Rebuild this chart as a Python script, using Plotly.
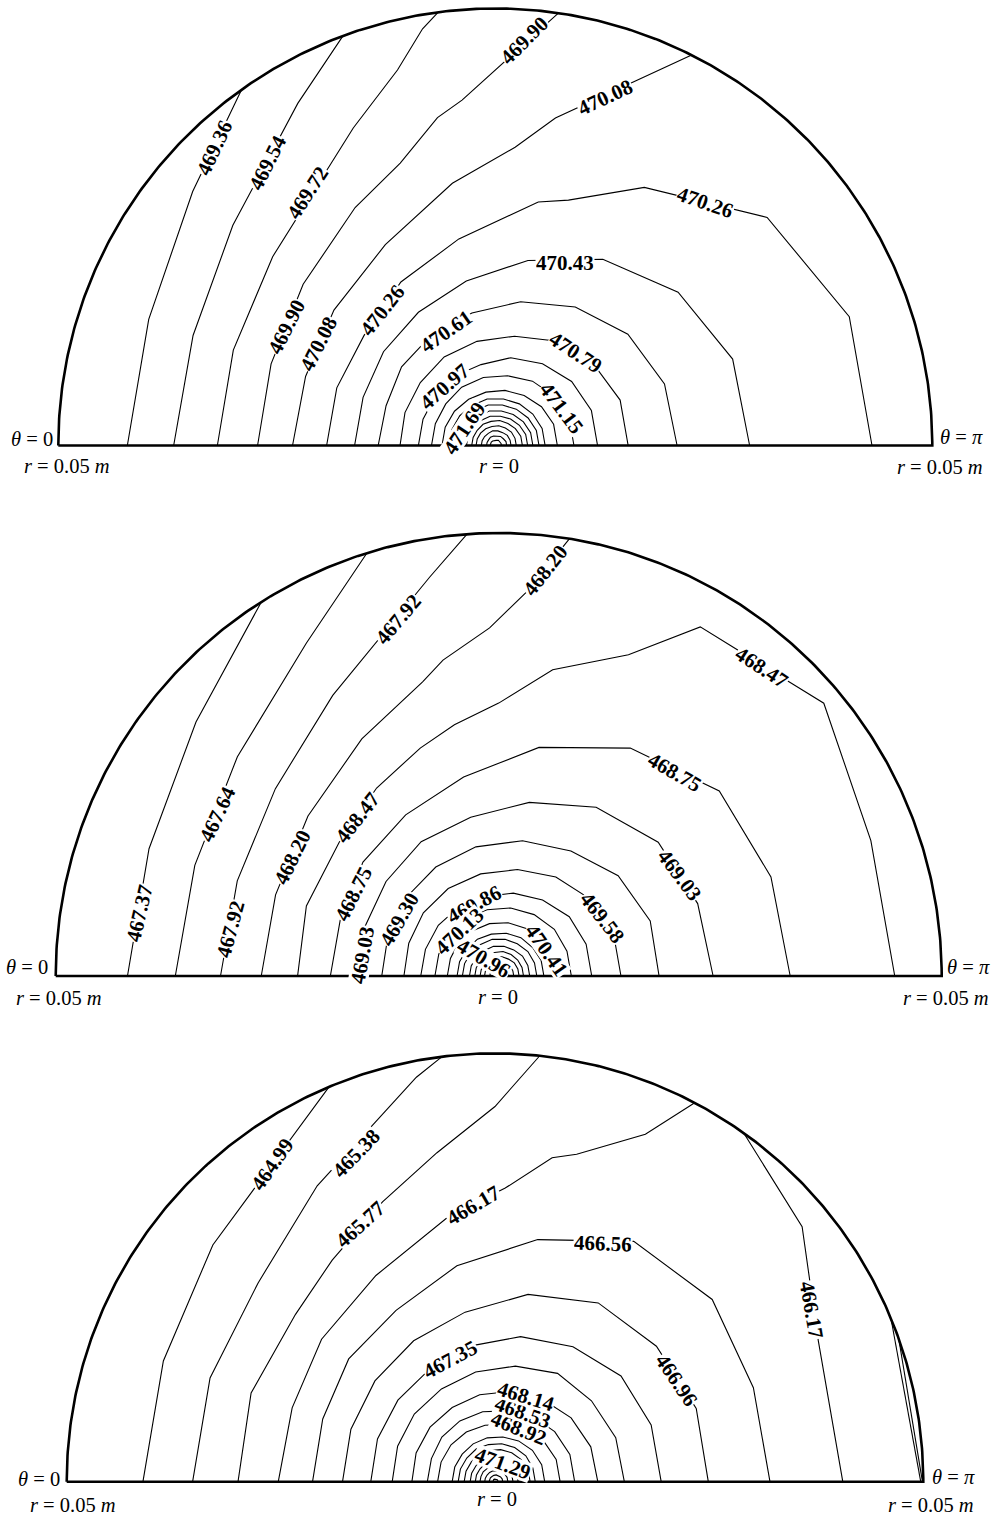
import numpy as np
import plotly.graph_objects as go

W, H = 995, 1517
R_OUT = 50.0  # outer radius in mm (r = 0.05 m)
RAYS = [0, 20, 40, 60, 80, 100, 120, 140, 160, 180]  # grid angles, degrees from theta = 0

# ---------------- Panel 1 ----------------
P1_LEVELS = [469.36, 469.54, 469.72, 469.90, 470.08, 470.26, 470.43, 470.61, 470.79, 470.97,
             471.15, 471.33, 471.51, 471.69, 471.86, 472.04, 472.22, 472.40, 472.57, 472.75, 472.93]
P1_THETA = [
    [0, 20, 40, 54.5],
    [0, 20, 40, 60, 69.6],
    [0, 20, 40.3, 65.9, 75.4, 80.1, 82.5],
    [0, 20, 40, 59.5, 71.4, 80, 84.5, 90.8, 98.3],
    [0, 20, 40, 61.3, 80.7, 93.8, 100.4, 116.7],
    [0, 20, 40, 60, 80, 100, 106.6, 120, 140, 160, 180],
] + [RAYS] * 15
P1_R = [
    [42.1, 42.2, 45.2, 50.0],
    [36.8, 36.8, 39.2, 45.2, 50.0],
    [31.8, 31.9, 33.4, 39.8, 44.4, 48.4, 50.0],
    [27.2, 27.3, 28.7, 31.6, 34.1, 38.1, 39.7, 43.5, 50.0],
    [23.2, 23.1, 24.1, 26.2, 30.4, 34.2, 38.1, 50.0],
    [19.3, 19.3, 19.6, 21.6, 24.0, 28.3, 29.3, 34.1, 40.6, 43.1, 43.1],
    [16.1, 16.1, 16.7, 17.6, 19.1, 21.5, 24.6, 27.3, 28.9, 29.1],
    [13.4, 13.3, 14.0, 14.6, 15.4, 16.7, 18.3, 19.8, 20.6, 20.8],
    [10.9, 11.0, 11.2, 11.7, 12.1, 12.7, 13.8, 14.6, 15.2, 15.2],
    [8.8, 8.8, 8.9, 9.2, 9.4, 10.2, 10.8, 11.4, 11.7, 11.7],
    [7.3, 7.3, 7.4, 7.7, 7.9, 8.1, 8.5, 8.8, 9.0, 9.0],
    [6.1, 6.1, 6.1, 6.1, 6.2, 6.4, 6.6, 6.9, 7.1, 7.1],
    [5.3, 5.3, 5.3, 5.3, 5.4, 5.4, 5.5, 5.6, 5.7, 5.7],
    [4.6, 4.6, 4.6, 4.6, 4.7, 4.7, 4.8, 4.9, 5.0, 5.0],
    [3.9, 3.9, 3.9, 3.9, 4.0, 4.0, 4.1, 4.2, 4.3, 4.3],
    [3.3, 3.3, 3.3, 3.3, 3.4, 3.4, 3.5, 3.6, 3.7, 3.7],
    [2.7, 2.7, 2.7, 2.8, 2.8, 2.9, 2.9, 3.0, 3.1, 3.1],
    [2.2, 2.2, 2.2, 2.2, 2.2, 2.3, 2.3, 2.4, 2.4, 2.4],
    [1.6, 1.6, 1.6, 1.6, 1.7, 1.7, 1.7, 1.8, 1.8, 1.8],
    [1.0, 1.0, 1.0, 1.1, 1.1, 1.1, 1.2, 1.2, 1.3, 1.3],
    [0.6, 0.6, 0.6, 0.6, 0.6, 0.6, 0.7, 0.7, 0.7, 0.7],
]

# ---------------- Panel 2 ----------------
P2_LEVELS = [467.37, 467.64, 467.92, 468.20, 468.47, 468.75, 469.03, 469.30, 469.58, 469.86,
             470.13, 470.41, 470.69, 470.96, 471.24, 471.52, 471.79, 472.07, 472.35, 472.62]
P2_THETA = [
    [0, 20, 40, 57.6],
    [0, 20, 40, 60, 72.7],
    [0, 20, 40, 59.4, 80.2, 85.9],
    [0, 20, 40, 60, 75.5, 80, 88.5, 94.2, 99.2],
    [0, 20, 40, 57, 71, 80, 90, 100, 112, 120, 140, 160, 180],
] + [RAYS] * 15
P2_R = [
    [41.9, 42.0, 44.6, 50.0],
    [36.5, 36.5, 38.5, 43.4, 50.0],
    [31.4, 31.4, 32.9, 36.8, 45.7, 50.0],
    [26.8, 26.8, 28.1, 30.9, 34.3, 36.2, 39.3, 43.5, 50.0],
    [22.7, 23.1, 23.5, 25.3, 27.2, 28.8, 30.8, 35.1, 39.1, 45.5, 47.9, 44.7, 44.7],
    [19.0, 19.0, 20.0, 21.0, 22.8, 26.2, 29.7, 32.5, 32.7, 32.9],
    [16.0, 16.1, 16.6, 17.5, 18.2, 19.9, 22.0, 23.5, 23.9, 24.2],
    [13.2, 13.3, 13.7, 14.2, 14.8, 15.5, 16.3, 17.6, 18.2, 18.1],
    [10.7, 10.8, 11.1, 11.4, 11.7, 12.2, 12.9, 13.5, 13.8, 13.8],
    [8.8, 8.8, 8.9, 9.0, 9.1, 9.5, 9.9, 10.4, 10.5, 10.5],
    [7.2, 7.2, 7.3, 7.5, 7.6, 7.8, 8.0, 8.2, 8.2, 8.2],
    [5.8, 5.8, 5.9, 5.9, 6.0, 6.1, 6.2, 6.3, 6.3, 6.3],
    [4.7, 4.7, 4.7, 4.8, 4.8, 4.9, 5.0, 5.0, 5.1, 5.1],
    [4.1, 4.1, 4.1, 4.1, 4.2, 4.2, 4.2, 4.3, 4.3, 4.3],
    [3.3, 3.3, 3.3, 3.3, 3.4, 3.4, 3.4, 3.5, 3.5, 3.5],
    [2.7, 2.7, 2.7, 2.7, 2.7, 2.8, 2.8, 2.8, 2.8, 2.8],
    [2.1, 2.1, 2.1, 2.1, 2.2, 2.2, 2.2, 2.3, 2.3, 2.3],
    [1.6, 1.6, 1.6, 1.6, 1.6, 1.6, 1.7, 1.7, 1.7, 1.7],
    [1.0, 1.0, 1.0, 1.0, 1.0, 1.1, 1.1, 1.1, 1.1, 1.1],
    [0.5, 0.5, 0.5, 0.5, 0.5, 0.5, 0.6, 0.6, 0.6, 0.6],
]

# ---------------- Panel 3 ----------------
P3_LEVELS = [464.99, 465.38, 465.38, 465.77, 465.77, 466.17, 466.17, 466.56, 466.96, 467.35,
             467.74, 468.14, 468.53, 468.92, 469.31, 469.71, 470.10, 470.50, 470.89, 471.29,
             471.68, 472.07, 472.47]
P3_THETA = [
    [0, 20, 40, 60, 67.2],
    [0, 20, 40, 59, 79, 82.9],
    [160.5, 180],
    [0, 20, 40, 53.7, 68.1, 80, 90, 96],
    [157.6, 180],
    [0, 20, 39.4, 60, 80, 92, 100, 104, 113.4, 117.8],
    [125.5, 140.3, 156.3, 180],
] + [RAYS] * 16
P3_R = [
    [41.1, 41.2, 43.0, 46.8, 50.0],
    [35.3, 35.4, 36.1, 40.3, 48.1, 50.0],
    [50.0, 49.9],
    [30.0, 30.3, 30.4, 32.1, 35.2, 39.0, 43.8, 50.0],
    [50.0, 49.7],
    [25.3, 25.2, 26.2, 27.8, 31.4, 34.3, 38.4, 39.4, 44.2, 50.0],
    [50.0, 46.6, 41.2, 40.6],
    [21.3, 21.4, 22.3, 23.1, 25.6, 28.7, 32.4, 33.1, 32.1, 32.1],
    [17.8, 17.9, 18.3, 19.0, 20.1, 22.2, 24.1, 24.6, 25.0, 24.9],
    [14.5, 14.6, 14.8, 15.2, 16.1, 17.2, 18.2, 19.2, 19.4, 19.4],
    [12.0, 12.1, 12.3, 12.5, 13.0, 13.7, 14.6, 14.7, 15.0, 15.1],
    [9.7, 9.8, 9.9, 10.0, 10.3, 10.7, 11.1, 11.6, 11.9, 12.0],
    [7.9, 7.9, 8.1, 8.2, 8.3, 8.4, 8.8, 9.1, 9.3, 9.3],
    [6.7, 6.7, 6.7, 6.7, 6.7, 6.8, 7.1, 7.4, 7.6, 7.6],
    [5.0, 5.0, 5.0, 5.1, 5.2, 5.3, 5.5, 5.7, 5.8, 5.8],
    [4.3, 4.3, 4.3, 4.4, 4.4, 4.5, 4.6, 4.7, 4.7, 4.7],
    [3.6, 3.6, 3.6, 3.7, 3.7, 3.8, 3.9, 4.0, 4.1, 4.1],
    [2.9, 2.9, 2.9, 3.0, 3.1, 3.2, 3.3, 3.4, 3.5, 3.5],
    [2.3, 2.3, 2.3, 2.4, 2.4, 2.5, 2.6, 2.6, 2.7, 2.7],
    [1.75, 1.75, 1.8, 1.8, 1.85, 1.9, 2.0, 2.05, 2.1, 2.1],
    [1.2, 1.2, 1.2, 1.25, 1.3, 1.3, 1.4, 1.45, 1.5, 1.5],
    [0.7, 0.7, 0.7, 0.7, 0.75, 0.8, 0.8, 0.85, 0.9, 0.9],
    [0.25, 0.25, 0.25, 0.3, 0.3, 0.3, 0.3, 0.35, 0.35, 0.35],
]

# contour labels: (text, pixel x, pixel y, rotation); later entries are drawn on top
P1_LABELS = [
    ("469.36", 215, 148, -65), ("469.54", 268, 163, -63), ("469.72", 308, 193, -57),
    ("469.90", 524, 40, -45), ("470.08", 605, 97, -25), ("470.26", 705, 203, 19),
    ("469.90", 287, 327, -63), ("470.08", 319, 344, -63), ("470.26", 382, 310, -52),
    ("470.43", 565, 262, 0), ("470.61", 446, 331, -35), ("470.79", 576, 352, 33),
    ("470.97", 445, 387, -41), ("471.15", 562, 408, 53), ("471.69", 464, 428, -56),
]
P2_LABELS = [
    ("467.92", 398, 619, -50), ("468.20", 545, 570, -52), ("468.47", 762, 667, 33),
    ("467.37", 139, 913, -77), ("467.64", 217, 814, -65), ("467.92", 230, 929, -75),
    ("468.20", 292, 857, -64), ("468.47", 358, 818, -52), ("468.75", 354, 894, -63),
    ("469.03", 362, 955, -80), ("469.30", 399, 919, -60), ("470.96", 484, 958, 30),
    ("469.86", 474, 904, -28), ("470.13", 459, 931, -43), ("468.75", 675, 772, 30),
    ("469.03", 680, 875, 53), ("469.58", 602, 918, 52), ("470.41", 547, 950, 55),
]
P3_LABELS = [
    ("464.99", 272, 1164, -55), ("465.38", 356, 1153, -46), ("465.77", 360, 1224, -42),
    ("466.17", 473, 1205, -30), ("466.56", 603, 1243, 2), ("466.96", 677, 1380, 56),
    ("466.17", 812, 1310, 80), ("467.35", 450, 1359, -28), ("471.29", 503, 1463, 20),
    ("468.92", 519, 1428, 22), ("468.53", 523, 1412, 20), ("468.14", 526, 1396, 17),
]

# panel placement in the page (pixel centre of r = 0 and pixels per mm)
PANELS = [
    dict(levels=P1_LEVELS, theta=P1_THETA, r=P1_R, labels=P1_LABELS, cx=495.3, cy=445.5, s=8.74,
         corner=[(55, 439, "right"), (22, 466, "left"), (499, 466, "center"), (938, 437, "left"), (985, 467, "right")]),
    dict(levels=P2_LEVELS, theta=P2_THETA, r=P2_R, labels=P2_LABELS, cx=498.7, cy=976.0, s=8.86,
         corner=[(50, 967, "right"), (14, 998, "left"), (498, 997, "center"), (945, 967, "left"), (991, 998, "right")]),
    dict(levels=P3_LEVELS, theta=P3_THETA, r=P3_R, labels=P3_LABELS, cx=495.0, cy=1481.7, s=8.566,
         corner=[(62, 1479, "right"), (28, 1505, "left"), (497, 1499, "center"), (930, 1477, "left"), (976, 1505, "right")]),
]
CORNER_TEXT = ["<i>θ</i> = 0", "<i>r</i> = 0.05 <i>m</i>", "<i>r</i> = 0", "<i>θ</i> = <i>π</i>", "<i>r</i> = 0.05 <i>m</i>"]

fig = go.Figure()
layout = {}
annotations = []

for i, p in enumerate(PANELS, start=1):
    sfx = "" if i == 1 else str(i)
    xa, ya = "x" + sfx, "y" + sfx
    for lev, th, rr in zip(p["levels"], p["theta"], p["r"]):
        t = np.radians(np.array(th, dtype=float))
        r = np.array(rr, dtype=float)
        fig.add_trace(go.Scatter(
            x=-r * np.cos(t), y=r * np.sin(t), mode="lines",
            line=dict(color="black", width=1.1),
            name=f"{lev:.2f}", hoverinfo="name", showlegend=False,
            xaxis=xa, yaxis=ya))
    # boundary: semicircle + diameter
    phi = np.linspace(0, np.pi, 361)
    fx = np.concatenate([-R_OUT * np.cos(phi), [-R_OUT]])
    fy = np.concatenate([R_OUT * np.sin(phi), [0.0]])
    fig.add_trace(go.Scatter(x=fx, y=fy, mode="lines", line=dict(color="black", width=2.6),
                             hoverinfo="skip", showlegend=False, xaxis=xa, yaxis=ya))

    cx, cy, s = p["cx"], p["cy"], p["s"]
    ytop = min(52.0, (cy - 0.5) / s)
    layout["xaxis" + sfx] = dict(domain=[(cx - 53 * s) / W, (cx + 53 * s) / W], range=[-53, 53],
                                 visible=False, anchor=ya, fixedrange=True)
    layout["yaxis" + sfx] = dict(domain=[1 - (cy + 3 * s) / H, 1 - (cy - ytop * s) / H], range=[-3, ytop],
                                 visible=False, anchor=xa, fixedrange=True)

    for text, px, py, ang in p["labels"]:
        annotations.append(dict(
            text=f"<b>{text}</b>", x=px / W, y=1 - py / H, xref="paper", yref="paper",
            showarrow=False, textangle=ang, xanchor="center", yanchor="middle",
            font=dict(family="Liberation Serif", size=21, color="black"),
            bgcolor="white", borderpad=0, height=19, valign="middle"))
    for txt, (px, py, anch) in zip(CORNER_TEXT, p["corner"]):
        annotations.append(dict(
            text=txt, x=px / W, y=1 - py / H, xref="paper", yref="paper",
            showarrow=False, xanchor=anch, yanchor="middle",
            font=dict(family="Liberation Serif", size=20.5, color="black")))

fig.update_layout(
    width=W, height=H, margin=dict(l=0, r=0, t=0, b=0),
    paper_bgcolor="white", plot_bgcolor="white",
    annotations=annotations, showlegend=False, **layout)

fig.write_html("out.html")
